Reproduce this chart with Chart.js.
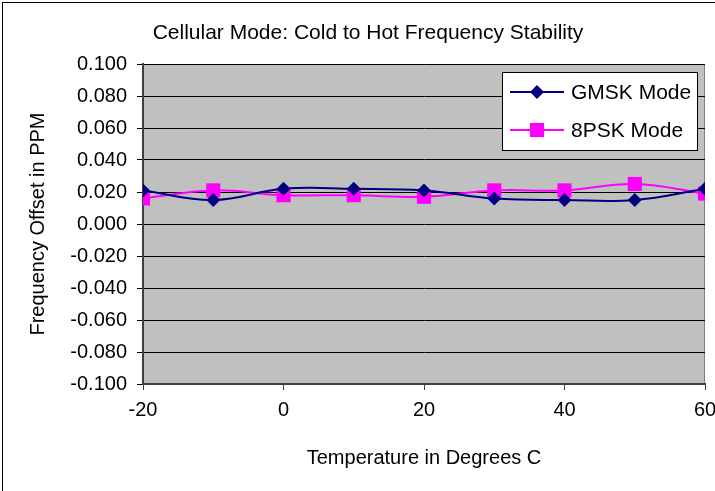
<!DOCTYPE html>
<html>
<head>
<meta charset="utf-8">
<script src="https://cdn.jsdelivr.net/npm/chart.js@4/dist/chart.umd.min.js"></script>
<style>
  html, body { margin: 0; padding: 0; background: #fff; overflow: hidden; }
  #wrap { position: relative; width: 715px; height: 491px; }
  #frame { position: absolute; left: 2px; top: 2px; width: 800px; height: 600px; border: 1px solid #000; box-sizing: border-box; }
  canvas { position: absolute; left: 0; top: 0; }
</style>
</head>
<body>
<div id="wrap">
  <div id="frame"></div>
  <canvas id="chart" width="715" height="491"></canvas>
</div>
<script>
  // ── Veri ──────────────────────────────────────────────────────────────
  const temps    = [-20, -10, 0, 10, 20, 30, 40, 50, 60];
  const gmskPpm  = [0.021, 0.015, 0.022, 0.022, 0.021, 0.016, 0.015, 0.015, 0.022];
  const psk8Ppm  = [0.016, 0.021, 0.018, 0.018, 0.017, 0.021, 0.021, 0.025, 0.019];
  const seriesNames = ["GMSK Mode", "8PSK Mode"];

  const FONT = "'Liberation Sans', Arial, sans-serif";
  const FONT_SIZE = 20;
  const BIG_FONT = 21;

  const toPoints = vals => temps.map((t, i) => ({ x: t, y: vals[i] }));

  // gri çizim alanı + çerçeve
  const plotBg = {
    id: "plotBg",
    beforeDraw(chart) {
      const { ctx, chartArea: a } = chart;
      ctx.save();
      ctx.fillStyle = "#c0c0c0";
      ctx.fillRect(a.left, a.top, a.right - a.left, a.bottom - a.top);
      ctx.strokeStyle = "#808080";
      ctx.lineWidth = 1;
      ctx.strokeRect(a.left + 0.5, a.top + 0.5, a.right - a.left - 1, a.bottom - a.top);
      ctx.restore();
    },
  };

  // başlık
  const titlePlugin = {
    id: "titlePlugin",
    afterDraw(chart) {
      const { ctx } = chart;
      ctx.save();
      ctx.font = `${BIG_FONT}px ${FONT}`;
      ctx.fillStyle = "#000";
      ctx.textAlign = "center";
      ctx.textBaseline = "middle";
      ctx.fillText("Cellular Mode: Cold to Hot Frequency Stability", 368, 33);
      ctx.restore();
    },
  };

  // grafik içindeki lejant kutusu
  const boxLegend = {
    id: "boxLegend",
    afterDraw(chart) {
      const { ctx } = chart;
      const x0 = 502, y0 = 72, w = 195, h = 78;
      ctx.save();
      ctx.fillStyle = "#fff";
      ctx.fillRect(x0, y0, w, h);
      ctx.strokeStyle = "#000";
      ctx.lineWidth = 1;
      ctx.strokeRect(x0 + 0.5, y0 + 0.5, w, h);
      ctx.font = `${BIG_FONT}px ${FONT}`;
      ctx.textBaseline = "middle";
      chart.data.datasets.forEach((ds, i) => {
        const y = y0 + 20 + i * 38;
        ctx.strokeStyle = ds.borderColor;
        ctx.lineWidth = 2;
        ctx.beginPath();
        ctx.moveTo(x0 + 8, y);
        ctx.lineTo(x0 + 62, y);
        ctx.stroke();
        ctx.fillStyle = ds.backgroundColor;
        Chart.helpers.drawPoint(ctx, {
          pointStyle: ds.pointStyle,
          radius: ds.pointRadius,
          borderWidth: 0,
        }, x0 + 35, y);
        ctx.fillStyle = "#000";
        ctx.fillText(seriesNames[i], x0 + 69, y + 1);
      });
      ctx.restore();
    },
  };

  new Chart(document.getElementById("chart"), {
    type: "line",
    data: {
      datasets: [
        {
          label: seriesNames[0],
          data: toPoints(gmskPpm),
          borderColor: "#000080",
          backgroundColor: "#000080",
          borderWidth: 2,
          pointStyle: "rectRot",
          pointRadius: 7,
          pointBorderWidth: 0,
          tension: 0.4,
        },
        {
          label: seriesNames[1],
          data: toPoints(psk8Ppm),
          borderColor: "#ff00ff",
          backgroundColor: "#ff00ff",
          borderWidth: 2,
          pointStyle: "rect",
          pointRadius: 10,
          pointBorderWidth: 0,
          tension: 0.4,
        },
      ],
    },
    options: {
      responsive: false,
      animation: false,
      layout: { padding: { left: 0, top: 64, right: 10, bottom: 0 } },
      plugins: {
        legend: { display: false },
        tooltip: { enabled: false },
      },
      scales: {
        x: {
          type: "linear",
          min: -20,
          max: 60,
          ticks: {
            stepSize: 20,
            color: "#000",
            font: { family: FONT, size: FONT_SIZE },
            padding: 8,
          },
          grid: { drawOnChartArea: false, drawTicks: true, tickLength: 6, color: "#404040" },
          border: { color: "#404040", width: 2 },
          title: {
            display: true,
            text: "Temperature in Degrees C",
            color: "#000",
            font: { family: FONT, size: FONT_SIZE },
            padding: { top: 0, bottom: 21 },
          },
          afterFit(s) { s.height = 107; s.paddingLeft = 0; s.paddingRight = 0; },
        },
        y: {
          min: -0.1,
          max: 0.1,
          ticks: {
            stepSize: 0.02,
            color: "#000",
            font: { family: FONT, size: FONT_SIZE },
            padding: 10,
            callback: v => v.toFixed(3),
          },
          grid: { color: "#000", lineWidth: 1, tickLength: 6 },
          border: { color: "#404040", width: 2 },
          title: {
            display: true,
            text: "Frequency Offset in PPM",
            color: "#000",
            font: { family: FONT, size: FONT_SIZE },
            padding: { top: 26, bottom: 0 },
          },
          afterFit(s) { s.width = 143; s.paddingTop = 0; s.paddingBottom = 0; },
        },
      },
    },
    plugins: [plotBg, titlePlugin, boxLegend],
  });
</script>
</body>
</html>
